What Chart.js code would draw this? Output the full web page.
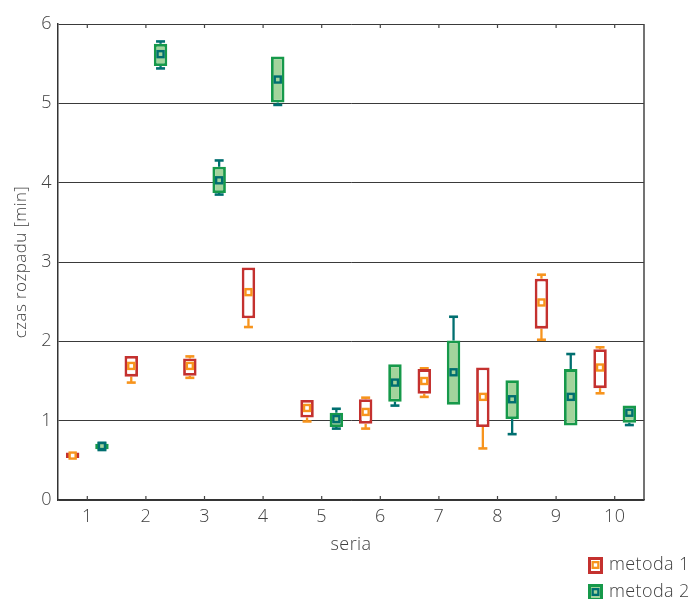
<!DOCTYPE html>
<html><head><meta charset="utf-8">
<script src="https://cdn.jsdelivr.net/npm/chart.js@4/dist/chart.umd.min.js"></script>
<style>html,body{margin:0;padding:0;background:#fff}</style>
</head><body>
<canvas id="c" width="697" height="599"></canvas>
<script>
const categories = ['1','2','3','4','5','6','7','8','9','10'];
const seriesNames = ['metoda 1','metoda 2'];
const yTicks = [0,1,2,3,4,5,6];

// metoda 1
const m1Min = [0.53, 1.48, 1.54, 2.18, 0.99, 0.90, 1.30, 0.65, 2.02, 1.345];
const m1Q1  = [0.53, 1.555, 1.565, 2.29, 1.04, 0.96, 1.34, 0.92, 2.16, 1.41];
const m1Med = [0.56, 1.69, 1.69, 2.62, 1.16, 1.11, 1.50, 1.30, 2.49, 1.67];
const m1Q3  = [0.60, 1.815, 1.785, 2.93, 1.26, 1.27, 1.65, 1.67, 2.79, 1.90];
const m1Max = [0.60, 1.815, 1.81, 2.93, 1.26, 1.29, 1.66, 1.67, 2.84, 1.925];

// metoda 2
const m2Min = [0.63, 5.44, 3.85, 4.98, 0.90, 1.19, 1.20, 0.83, 0.94, 0.945];
const m2Q1  = [0.64, 5.47, 3.87, 5.01, 0.92, 1.24, 1.20, 1.02, 0.94, 0.975];
const m2Med = [0.68, 5.62, 4.03, 5.30, 1.02, 1.48, 1.61, 1.27, 1.30, 1.10];
const m2Q3  = [0.71, 5.75, 4.20, 5.59, 1.10, 1.71, 2.01, 1.51, 1.65, 1.19];
const m2Max = [0.72, 5.78, 4.28, 5.59, 1.15, 1.71, 2.31, 1.51, 1.84, 1.19];

const TEXT = '#404040';
const FONT = "'Open Sans', 'DejaVu Sans', sans-serif";
const styles = [
  {border:'#c4312f', fill:'#ffffff', whisker:'#f7941d', marker:'#f7941d', markerIn:'#ffffff'},
  {border:'#16994a', fill:'#a3d49c', whisker:'#006f70', marker:'#006f70', markerIn:'#a3d49c'}
];
const stats = [
  {min:m1Min, q1:m1Q1, med:m1Med, q3:m1Q3, max:m1Max},
  {min:m2Min, q1:m2Q1, med:m2Med, q3:m2Q3, max:m2Max}
];

const extras = {
  id: 'boxExtras',
  beforeDraw(chart) {
    chart.ctx.letterSpacing = '0.4px';
  },
  beforeDatasetsDraw(chart) {
    const ctx = chart.ctx, y = chart.scales.y;
    stats.forEach((s, i) => {
      const meta = chart.getDatasetMeta(i);
      ctx.save();
      ctx.strokeStyle = styles[i].whisker;
      meta.data.forEach((bar, j) => {
        const x = bar.x;
        const segs = [[s.min[j], s.q1[j]], [s.q3[j], s.max[j]]];
        segs.forEach(([a, b]) => {
          if (Math.abs(a - b) < 0.006) return;
          const ya = y.getPixelForValue(a), yb = y.getPixelForValue(b);
          ctx.lineWidth = 2.3;
          ctx.beginPath(); ctx.moveTo(x, ya); ctx.lineTo(x, yb); ctx.stroke();
          const yy = y.getPixelForValue(a === s.min[j] ? a : b);
          ctx.lineWidth = 2.6;
          ctx.beginPath(); ctx.moveTo(x - 4.5, yy); ctx.lineTo(x + 4.5, yy); ctx.stroke();
        });
      });
      ctx.restore();
    });
  },
  afterDatasetsDraw(chart) {
    const ctx = chart.ctx, y = chart.scales.y;
    stats.forEach((s, i) => {
      const meta = chart.getDatasetMeta(i);
      meta.data.forEach((bar, j) => {
        const x = bar.x, yy = y.getPixelForValue(s.med[j]);
        ctx.fillStyle = styles[i].marker;
        ctx.fillRect(x - 4.2, yy - 4.2, 8.4, 8.4);
        ctx.fillStyle = styles[i].markerIn;
        ctx.fillRect(x - 1.8, yy - 1.8, 3.6, 3.6);
      });
    });
  },
  afterDraw(chart) {
    const ctx = chart.ctx, a = chart.chartArea, xs = chart.scales.x;
    ctx.save();
    ctx.strokeStyle = '#444';
    ctx.lineWidth = 1.5;
    ctx.beginPath(); ctx.moveTo(a.right, a.top); ctx.lineTo(a.right, a.bottom); ctx.stroke();
    ctx.lineWidth = 1.2;
    xs.ticks.forEach((t, k) => {
      const px = xs.getPixelForTick(k);
      ctx.beginPath(); ctx.moveTo(px, a.bottom); ctx.lineTo(px, a.bottom - 4); ctx.stroke();
      ctx.beginPath(); ctx.moveTo(px, a.top); ctx.lineTo(px, a.top + 4); ctx.stroke();
    });
    // legend
    ctx.font = "300 18px " + FONT;
    ctx.textBaseline = 'middle';
    ctx.textAlign = 'left';
    seriesNames.forEach((name, i) => {
      const cy = 565 + i * 27;
      const st = styles[i];
      ctx.fillStyle = st.border;
      ctx.fillRect(588, cy - 8, 15, 17);
      ctx.fillStyle = st.fill;
      ctx.fillRect(591, cy - 5, 9, 11);
      ctx.fillStyle = st.marker;
      ctx.fillRect(591.5, cy - 4, 8, 8);
      ctx.fillStyle = st.markerIn;
      ctx.fillRect(593.8, cy - 1.7, 3.4, 3.4);
      ctx.fillStyle = TEXT;
      ctx.fillText(name, 609, cy);
    });
    ctx.restore();
  }
};

new Chart(document.getElementById('c'), {
  type: 'bar',
  data: {
    labels: categories,
    datasets: stats.map((s, i) => ({
      label: seriesNames[i],
      data: s.q1.map((v, j) => [v, s.q3[j]]),
      backgroundColor: styles[i].fill,
      borderColor: styles[i].border,
      borderWidth: 2.8,
      borderSkipped: false,
      barPercentage: 0.46,
      categoryPercentage: 1.0
    }))
  },
  options: {
    responsive: false,
    devicePixelRatio: 1,
    animation: false,
    layout: {padding: {top: 24, right: 53, left: 0, bottom: 0}},
    plugins: {legend: {display: false}, tooltip: {enabled: false}},
    scales: {
      x: {
        type: 'category',
        offset: true,
        grid: {display: false, drawTicks: false},
        border: {display: true, color: '#333', width: 1.5},
        ticks: {color: TEXT, font: {family: FONT, size: 18, weight: 300}, padding: 6, maxRotation: 0},
        title: {display: true, text: 'seria', color: TEXT, font: {family: FONT, size: 18, weight: 300}, padding: {top: 0, bottom: 43}},
        afterFit(scale) { scale.height = 99; }
      },
      y: {
        min: 0, max: 6,
        afterBuildTicks(scale) { scale.ticks = yTicks.map(v => ({value: v})); },
        grid: {color: '#3a3a3a', lineWidth: 1, drawTicks: false},
        border: {display: true, color: '#333', width: 1.5},
        ticks: {color: TEXT, font: {family: FONT, size: 18, weight: 300}, padding: 6},
        title: {display: true, text: 'czas rozpadu [min]', color: TEXT, font: {family: FONT, size: 17, weight: 300}, padding: {top: 11, bottom: 0}},
        afterFit(scale) { scale.width = 58; }
      }
    }
  },
  plugins: [extras]
});
</script>
</body></html>
